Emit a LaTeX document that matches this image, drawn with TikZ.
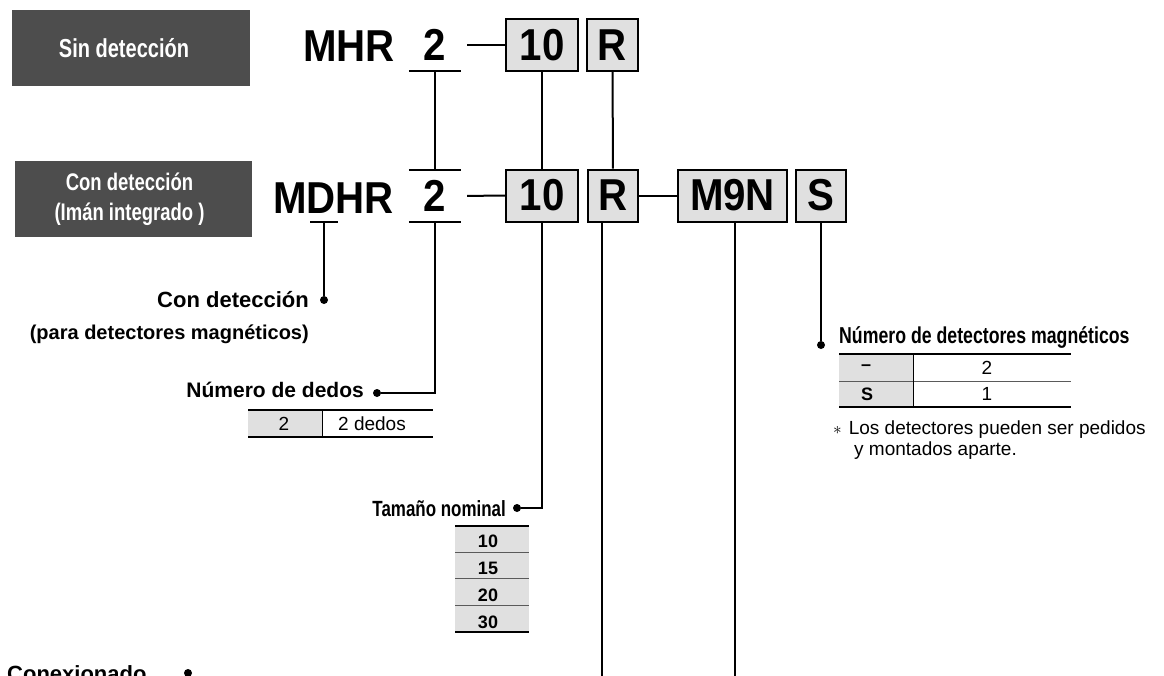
\documentclass[tikz,border=0pt]{standalone}
\usepackage{fontspec}
\setmainfont{Liberation Sans}
\newfontfamily\codefont[FakeStretch=0.9]{Liberation Sans}
\newfontfamily\narrowfont[FakeStretch=0.77]{Liberation Sans}

\definecolor{cellgray}{HTML}{E0E0E0}
\definecolor{bandgray}{HTML}{4D4D4D}
\definecolor{rulegray}{HTML}{5A5A5A}

\tikzset{
  code/.style={font=\codefont\bfseries\fontsize{44.7}{50}\selectfont, inner sep=0pt},
  codebox/.style={code, draw, fill=cellgray, line width=2pt, minimum height=52pt},
  slot/.style={code, minimum width=52pt, minimum height=52pt},
  band/.style={fill=bandgray, inner sep=0pt, minimum height=76pt},
  bandtext/.style={text=white, align=center, inner sep=0pt},
  lead/.style={line width=2pt},
  pin/.style={circle, fill=black, inner sep=0pt, minimum size=8pt},
  head/.style={font=\bfseries\fontsize{22}{26}\selectfont, inner sep=0pt},
  nhead/.style={font=\narrowfont\bfseries\fontsize{22}{26}\selectfont, inner sep=0pt},
  cell/.style={font=\fontsize{19}{21}\selectfont, inner sep=0pt},
  bcell/.style={font=\bfseries\fontsize{18}{20}\selectfont, inner sep=0pt}
}

\begin{document}
\begin{tikzpicture}[x=1pt,y=-1pt]
  \clip (0,0) rectangle (1164,675);

  % dark bands
  \node[band, minimum width=238pt] (sinbox) at (131,48) {};
  \node[bandtext, font=\narrowfont\bfseries\fontsize{26}{30}\selectfont] (sin) at (124,48) {Sin detección};
  \node[band, minimum width=237pt] (conbox) at (133.5,199) {};
  \node[bandtext, font=\narrowfont\bfseries\fontsize{24}{30}\selectfont] (con) at (129.5,199) {Con detección\\(Imán integrado )};

  % upper code
  \node[code, anchor=base west] (mhr) at (303,61) {MHR};
  \node[slot] (twoA) at (435,45) {2};
  \node[codebox, minimum width=72pt] (tenA) at (542,45) {10};
  \node[codebox, minimum width=51pt] (rA) at (612.5,45) {R};

  % lower code
  \node[code, anchor=base west] (mdhr) at (273,213) {MDHR};
  \node[slot] (twoB) at (435,196) {2};
  \node[codebox, minimum width=72pt] (tenB) at (542,195.5) {10};
  \node[codebox, minimum width=50pt] (rB) at (613,195.5) {R};
  \node[codebox, minimum width=109pt] (m9n) at (732.5,195.5) {M9N};
  \node[codebox, minimum width=50pt] (sB) at (821,195.5) {S};

  \draw[lead] (twoA.south west) -- (twoA.south east);
  \draw[lead] (twoB.north west) -- (twoB.north east);
  \draw[lead] (twoB.south west) -- (twoB.south east);
  \draw[lead] (twoA.south) -- (twoB.north);
  \draw[lead, shorten <=6pt] (twoA.east) -- (tenA.west);
  \draw[lead, shorten <=6pt] (twoB.east) -- (tenB.west);
  \draw[lead] (tenA) -- (tenB);
  \draw[lead] (rA) -- (rB);
  \draw[lead] (rB) -- (m9n);

  % Con deteccion
  \coordinate (dmark) at (324,222);
  \draw[lead] ([xshift=-14pt]dmark) -- ([xshift=14pt]dmark);
  \node[pin] (pcon) at (324,300) {};
  \draw[lead] (dmark) -- (pcon);
  \node[head, anchor=base east] (lcon) at (309,307) {Con detección};
  \node[font=\bfseries\fontsize{20}{24}\selectfont, inner sep=0pt, anchor=base east] (lpara) at (309,339) {(para detectores magnéticos)};

  % Numero de dedos
  \node[pin] (pded) at (377,393) {};
  \draw[lead] (twoB.south) |- (pded);
  \node[font=\bfseries\fontsize{21}{24}\selectfont, inner sep=0pt, anchor=base east] (lded) at (364,397) {Número de dedos};
  \fill[cellgray] (248,410) rectangle (322,437);
  \draw[line width=2pt] (248,410) -- (433,410);
  \draw[line width=1.2pt] (248,437) -- (433,437);
  \draw[line width=1pt] (322,410) -- (322,437);
  \node[cell] (dedA) at (284,424) {2};
  \node[cell] (dedB) at (372,424) {2 dedos};

  % Tamano nominal
  \node[pin] (ptam) at (517,508) {};
  \draw[lead] (tenB.south) |- (ptam);
  \node[nhead, anchor=base east] (ltam) at (506,516) {Tamaño nominal};
  \fill[cellgray] (455,526) rectangle (529,632);
  \foreach \y in {552,578,605}
    \draw[rulegray, line width=1pt] (455,\y) -- (529,\y);
  \draw[line width=2pt] (455,526) -- (529,526);
  \draw[line width=1.2pt] (455,632) -- (529,632);
  \foreach \v [count=\i] in {10,15,20,30}
    \node[bcell] (tam\v) at (488,{541+27*(\i-1)}) {\v};

  % R and M9N run on below
  \coordinate (rfoot) at (602,700);
  \coordinate (mfoot) at (735,700);
  \draw[lead] (rfoot|-rB.south) -- (rfoot);
  \draw[lead] (mfoot|-m9n.south) -- (mfoot);

  % Numero de detectores
  \node[pin] (pdet) at (821,345) {};
  \draw[lead] (sB) -- (pdet);
  \node[nhead, font=\narrowfont\bfseries\fontsize{23}{26}\selectfont, anchor=base west] (ldet) at (839,343) {Número de detectores magnéticos};
  \fill[cellgray] (839,354) rectangle (913,407);
  \draw[line width=2pt] (839,354) -- (1071,354);
  \draw[rulegray, line width=1pt] (839,381) -- (1071,381);
  \draw[line width=1.2pt] (839,407) -- (1071,407);
  \draw[line width=1pt] (913,354) -- (913,407);
  \node[bcell] (detA) at (866,367.5) {–};
  \node[cell] (detB) at (987,367.5) {2};
  \node[bcell] (detC) at (867,394) {S};
  \node[cell] (detD) at (987,394) {1};
  \node[cell, anchor=base west] (noteA) at (833,434) {$\ast$\hspace{7pt}Los detectores pueden ser pedidos};
  \node[cell, anchor=base west] (noteB) at (854,455) {y montados aparte.};

  % Conexionado
  \node[head, anchor=base west] (lconx) at (7,681) {Conexionado};
  \node[pin] (pconx) at (188,673) {};
\end{tikzpicture}
\end{document}
